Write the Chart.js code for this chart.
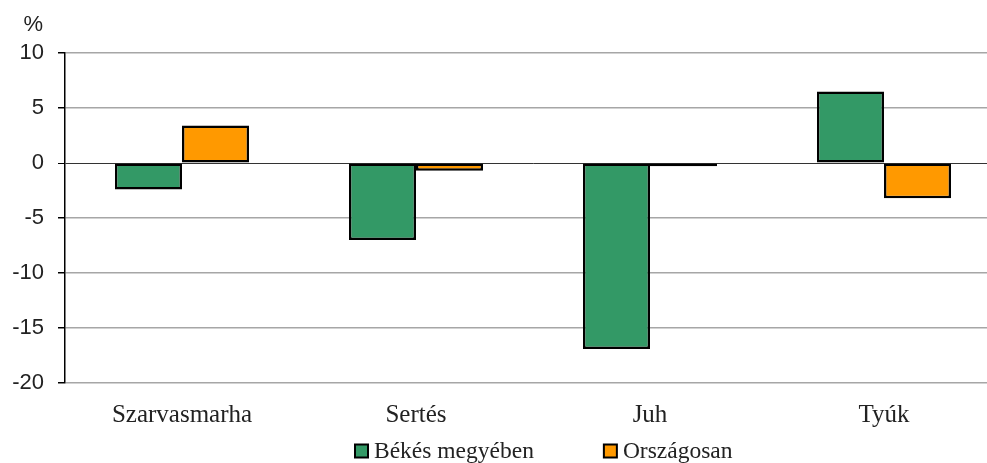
<!DOCTYPE html>
<html>
<head>
<meta charset="utf-8">
<script src="https://cdn.jsdelivr.net/npm/chart.js@4/dist/chart.umd.min.js"></script>
<style>
html,body{margin:0;padding:0;background:#fff;overflow:hidden;width:987px;height:463px;}
#wrap{position:relative;width:1001px;height:463px;}
</style>
</head>
<body>
<div id="wrap"><canvas id="c"></canvas></div>
<script>
const categories = ['Szarvasmarha', 'Sertés', 'Juh', 'Tyúk'];
const bekesValues = [-2.4, -7.0, -16.9, 6.5];
const orszagosValues = [3.4, -0.7, -0.3, -3.2];
const seriesNames = ['Békés megyében', 'Országosan'];
const yTicks = [-20, -15, -10, -5, 0, 5, 10];
const unitLabel = '%';

const serif = "'Liberation Serif', 'DejaVu Serif', serif";
const sans = "'Liberation Sans', Arial, sans-serif";

const extras = {
  id: 'extras',
  afterDraw(chart) {
    const ctx = chart.ctx;
    const y = chart.scales.y;
    ctx.save();
    ctx.font = '22px "Liberation Sans"';
    ctx.fillStyle = '#222';
    ctx.textAlign = 'right';
    ctx.textBaseline = 'middle';
    ctx.fillText(unitLabel, y.right - 22, y.top - 28);
    ctx.font = '23.5px "Liberation Serif"';
    ctx.textAlign = 'left';
    const box = 13, gapBox = 6, gapItem = 70;
    let x = 355;
    const cy = 451;
    chart.data.datasets.forEach(d => {
      ctx.fillStyle = d.backgroundColor;
      ctx.fillRect(x, cy - box / 2, box, box);
      ctx.lineWidth = 2;
      ctx.strokeStyle = '#000';
      ctx.strokeRect(x, cy - box / 2, box, box);
      ctx.fillStyle = '#222';
      ctx.fillText(d.label, x + box + gapBox, cy + 1);
      x += box + gapBox + ctx.measureText(d.label).width + gapItem;
    });
    ctx.restore();
  }
};

new Chart(document.getElementById('c'), {
  type: 'bar',
  data: {
    labels: categories,
    datasets: [
      {label: seriesNames[0], data: bekesValues, backgroundColor: '#339966', borderColor: '#000', borderWidth: 2.5, borderSkipped: false},
      {label: seriesNames[1], data: orszagosValues, backgroundColor: '#FF9900', borderColor: '#000', borderWidth: 2.5, borderSkipped: false}
    ]
  },
  options: {
    responsive: true,
    maintainAspectRatio: false,
    animation: false,
    devicePixelRatio: 1,
    layout: {padding: {top: 53, right: 0, bottom: 24, left: 0}},
    plugins: {legend: {display: false}, tooltip: {enabled: false}},
    datasets: {bar: {categoryPercentage: 0.573, barPercentage: 1}},
    scales: {
      x: {
        grid: {display: false},
        border: {display: false},
        ticks: {color: '#222', font: {family: serif, size: 25}, padding: 9, maxRotation: 0}
      },
      y: {
        min: -20, max: 10,
        afterFit(s) { s.width = 65; },
        afterBuildTicks(s) { s.ticks = yTicks.map(v => ({value: v})); },
        border: {display: true, color: '#000', width: 1.5},
        grid: {
          color: c => (c.tick && c.tick.value === 0) ? '#333' : '#a6a6a6',
          lineWidth: c => (c.tick && c.tick.value === 0) ? 1 : 1.5,
          tickColor: '#000',
          tickLength: 7,
          drawTicks: true
        },
        ticks: {color: '#222', font: {family: sans, size: 22}, padding: 14}
      }
    }
  },
  plugins: [extras]
});
</script>
</body>
</html>
